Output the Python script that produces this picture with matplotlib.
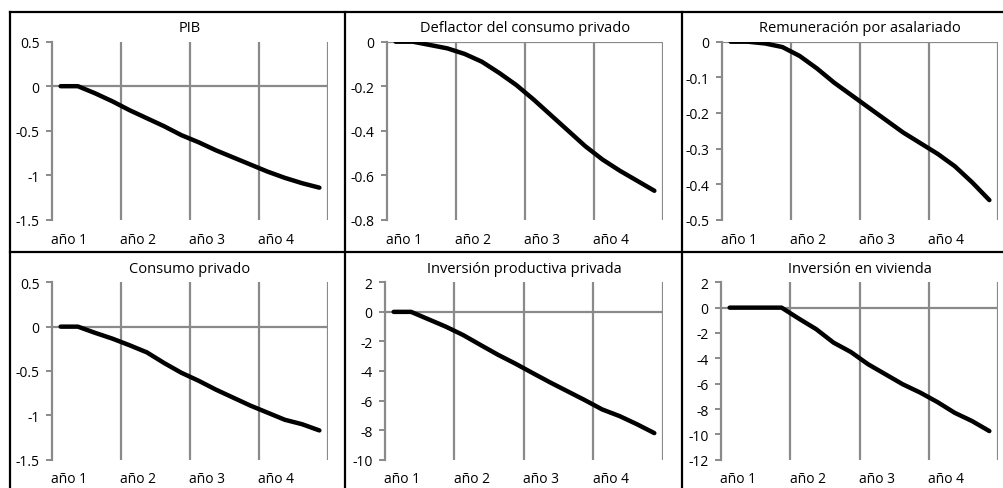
import matplotlib
matplotlib.use("Agg")
import matplotlib.pyplot as plt
from matplotlib.lines import Line2D
import numpy as np

plt.rcParams['font.family'] = ['Open Sans', 'DejaVu Sans']

# ---------------- data ----------------
quarters = list(range(16))
year_labels = ["año 1", "año 2", "año 3", "año 4"]

titles = ["PIB", "Deflactor del consumo privado", "Remuneración por asalariado",
          "Consumo privado", "Inversión productiva privada", "Inversión en vivienda"]

pib = [0, 0, -0.08, -0.17, -0.27, -0.36, -0.45, -0.55, -0.63, -0.72, -0.80, -0.88, -0.96, -1.03, -1.09, -1.14]
deflactor = [0, 0, -0.015, -0.03, -0.055, -0.09, -0.14, -0.195, -0.26, -0.33, -0.40, -0.47, -0.53, -0.58, -0.625, -0.67]
remuneracion = [0, 0, -0.005, -0.015, -0.04, -0.075, -0.115, -0.15, -0.185, -0.22, -0.255, -0.285, -0.315, -0.35, -0.395, -0.445]
consumo = [0, 0, -0.07, -0.135, -0.21, -0.29, -0.41, -0.52, -0.61, -0.71, -0.80, -0.89, -0.97, -1.05, -1.10, -1.17]
inv_productiva = [0, 0, -0.5, -1.0, -1.57, -2.24, -2.9, -3.5, -4.14, -4.77, -5.37, -5.97, -6.6, -7.05, -7.6, -8.2]
inv_vivienda = [0, 0, 0, 0, -0.87, -1.7, -2.76, -3.5, -4.47, -5.26, -6.05, -6.7, -7.45, -8.3, -8.95, -9.74]

series = [pib, deflactor, remuneracion, consumo, inv_productiva, inv_vivienda]

yticks = [
    [0.5, 0, -0.5, -1, -1.5],
    [0, -0.2, -0.4, -0.6, -0.8],
    [0, -0.1, -0.2, -0.3, -0.4, -0.5],
    [0.5, 0, -0.5, -1, -1.5],
    [2, 0, -2, -4, -6, -8, -10],
    [2, 0, -2, -4, -6, -8, -10, -12],
]
ytick_labels = [
    ["0.5", "0", "-0.5", "-1", "-1.5"],
    ["0", "-0.2", "-0.4", "-0.6", "-0.8"],
    ["0", "-0.1", "-0.2", "-0.3", "-0.4", "-0.5"],
    ["0.5", "0", "-0.5", "-1", "-1.5"],
    ["2", "0", "-2", "-4", "-6", "-8", "-10"],
    ["2", "0", "-2", "-4", "-6", "-8", "-10", "-12"],
]

# ---------------- layout (pixels) ----------------
W, H = 1004, 489
fig = plt.figure(figsize=(W / 100, H / 100), dpi=100)
fig.patch.set_facecolor("white")

# plot-area rectangles in pixel coords: (left, right, top, bottom)
rects = [
    (52, 328, 42.7, 220.7),
    (387, 663, 42.7, 220.7),
    (722, 998, 42.7, 220.7),
    (52, 328, 283.3, 460.7),
    (385, 663, 283.3, 460.7),
    (721, 998, 283.3, 460.7),
]

GRID = "#8a8a8a"

for k, (l, r, t, b) in enumerate(rects):
    ax = fig.add_axes([l / W, 1 - b / H, (r - l) / W, (b - t) / H])
    ax.set_facecolor("none")
    yt = yticks[k]
    ax.set_xlim(-0.5, 15.5)
    ax.set_ylim(min(yt), max(yt))

    for s in ["top", "right", "bottom"]:
        ax.spines[s].set_visible(False)
    ax.spines["left"].set_color(GRID)
    ax.spines["left"].set_linewidth(1.6)

    # vertical gridlines at year boundaries
    for xv in [3.5, 7.5, 11.5, 15.5]:
        ax.axvline(xv, color=GRID, lw=1.6, zorder=1)
    # horizontal axis at zero
    ax.axhline(0, color=GRID, lw=1.6, zorder=1)

    ax.plot(quarters, series[k], color="black", lw=3.2, solid_capstyle="round",
            solid_joinstyle="round", zorder=3)

    ax.set_yticks(yt)
    ax.set_yticklabels(ytick_labels[k])
    ax.tick_params(axis="y", direction="out", length=4, width=1.4, color=GRID,
                   labelsize=10, pad=5, labelcolor="black")

    ax.set_xticks([0.5, 4.5, 8.5, 12.5])
    ax.set_xticklabels(year_labels)
    ax.tick_params(axis="x", length=0, labelsize=10, pad=9 if k < 3 else 8)

    ax.annotate(titles[k], xy=(0.5, 1), xycoords="axes fraction",
                xytext=(0, 10), textcoords="offset points",
                ha="center", va="center", fontsize=10.5)

# black panel borders
def hline(y, x0, x1):
    fig.add_artist(Line2D([x0 / W, x1 / W], [1 - y / H, 1 - y / H], color="black", lw=1.6))

def vline(x, y0, y1):
    fig.add_artist(Line2D([x / W, x / W], [1 - y0 / H, 1 - y1 / H], color="black", lw=1.6))

hline(12.7, 10, W)
hline(252.7, 10, W)
vline(10, 12.7, H)
vline(345, 12.7, H)
vline(682, 12.7, H)

fig.savefig("out.png", dpi=100, facecolor="white")
